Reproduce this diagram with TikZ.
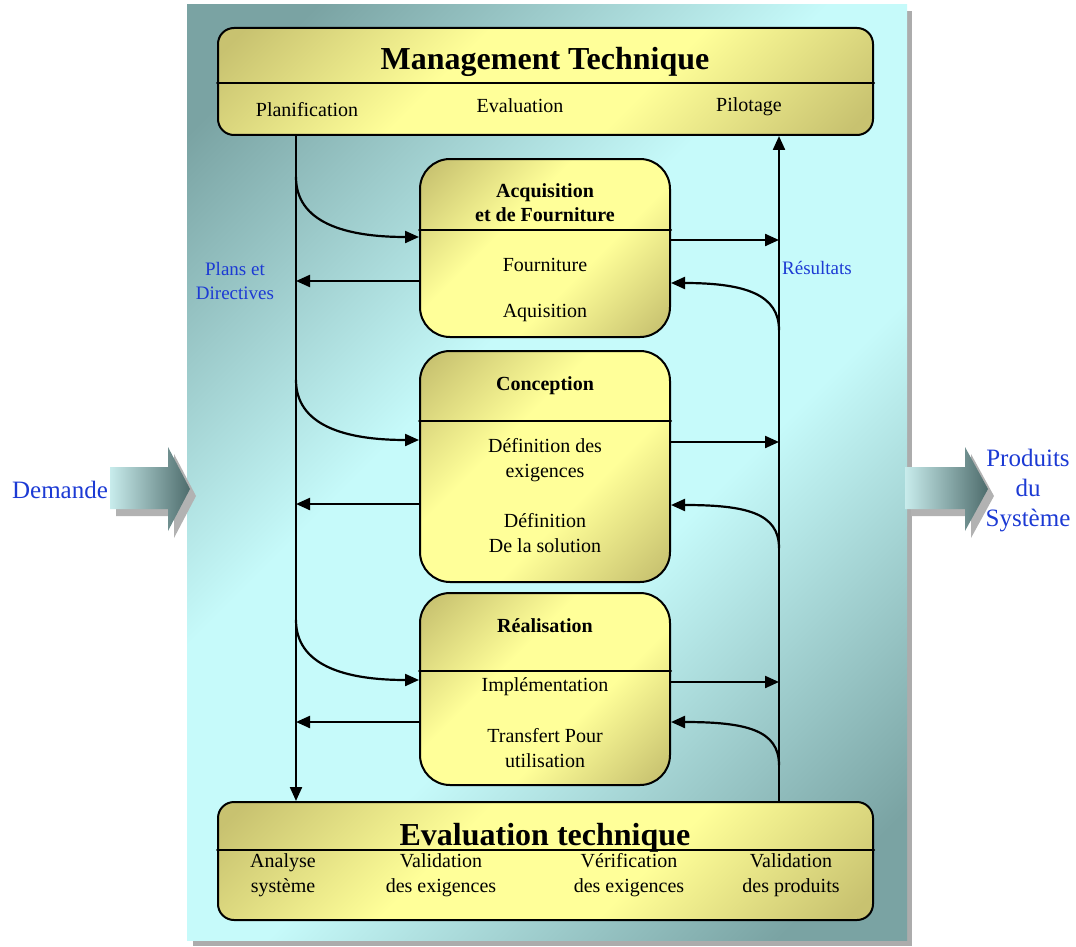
\documentclass[tikz,border=0pt]{standalone}
\usepackage{fontspec}
\setmainfont{Liberation Serif}
\usetikzlibrary{arrows.meta}

\definecolor{paneldark}{RGB}{122,163,163}
\definecolor{panellight}{RGB}{198,250,250}
\definecolor{boxlight}{RGB}{255,255,153}
\definecolor{boxdark}{RGB}{200,194,112}
\definecolor{txtblue}{RGB}{28,58,212}
\definecolor{fatlight}{RGB}{200,236,236}
\definecolor{fatdark}{RGB}{78,108,108}

\pgfdeclareverticalshading{paneldiag}{100bp}{color(0bp)=(paneldark); color(20bp)=(paneldark);
  color(42bp)=(panellight); color(58bp)=(panellight); color(80bp)=(paneldark); color(100bp)=(paneldark)}
\pgfdeclareverticalshading{boxdiag}{100bp}{color(0bp)=(boxdark); color(17bp)=(boxdark);
  color(40bp)=(boxlight); color(60bp)=(boxlight); color(83bp)=(boxdark); color(100bp)=(boxdark)}

\tikzset{
  box/.style={draw=black,line width=2pt,rounded corners=#1,shading=boxdiag,shading angle=45},
  box/.default=30pt,
  lbl/.style={inner sep=0pt,align=center,font=\fontsize{20}{25}\selectfont},
  ttl/.style={inner sep=0pt,align=center,font=\fontsize{20}{24}\selectfont\bfseries},
  side/.style={inner sep=0pt,align=center,text=txtblue},
  fat/.style={left color=fatlight,right color=fatdark},
}

\begin{document}
\begin{tikzpicture}[line cap=round,line join=round,>={Triangle[length=14pt,width=12pt]},x=1pt,y=-1pt]
    \useasboundingbox (0,0) rectangle (1076,947);
    % panel
    \fill[gray!65] (193,11) rectangle (912,946);
    \shade[shading=paneldiag,shading angle=45] (187,5) rectangle (907,940);
    % input / output
    \fill[gray!60] (116,474) -- (174,474) -- (174,454) -- (196,496) -- (174,538) -- (174,516) -- (116,516) -- cycle;
    \shade[fat] (110,467) -- (168,467) -- (168,447) -- (190,489) -- (168,531) -- (168,509) -- (110,509) -- cycle;
    \fill[gray!60] (911,474) -- (971,474) -- (971,454) -- (994,496) -- (971,538) -- (971,516) -- (911,516) -- cycle;
    \shade[fat] (905,467) -- (965,467) -- (965,447) -- (988,489) -- (965,531) -- (965,509) -- (905,509) -- cycle;
    \node[side,font=\fontsize{25}{30}\selectfont] (dem) at (60,490) {Demande};
    \node[side,font=\fontsize{25}{30}\selectfont] (prod) at (1028,491) {Produits\\du\\Syst\`eme};

    % boxes
    \node[box=16pt,minimum width=655pt,minimum height=107pt] (mgmt) at (545.5,81.5) {};
    \node[box=16pt,minimum width=655pt,minimum height=118pt] (eval) at (545.5,861) {};
    \node[box,minimum width=250pt,minimum height=178pt] (acq) at (545,248) {};
    \node[box,minimum width=250pt,minimum height=231pt] (conc) at (545,466.5) {};
    \node[box,minimum width=250pt,minimum height=192pt] (real) at (545,689) {};
    \foreach \n/\y in {mgmt/83,eval/850,acq/230,conc/421,real/671}
        \draw[line width=2pt] (\n.west |- 0,\y) -- (\n.east |- 0,\y);

    % texts
    \node[inner sep=0pt,font=\fontsize{32}{36}\selectfont\bfseries] (mgmtT) at (545,62) {Management Technique};
    \node[lbl] (plan) at (307,110) {Planification};
    \node[lbl] (evl) at (520,106) {Evaluation};
    \node[lbl] (pil) at (749,107) {Pilotage};
    \node[inner sep=0pt,font=\fontsize{32}{36}\selectfont\bfseries] (evalT) at (545,838) {Evaluation technique};
    \node[lbl] (ana) at (283,875) {Analyse\\syst\`eme};
    \node[lbl] (vex) at (441,875) {Validation\\des exigences};
    \node[lbl] (ver) at (629,875) {V\'erification\\des exigences};
    \node[lbl] (vpr) at (791,875) {Validation\\des produits};
    \node[ttl] (acqT) at (545,203) {Acquisition\\et de Fourniture};
    \node[lbl] (four) at (545,265) {Fourniture};
    \node[lbl] (aqu) at (545,313) {Aquisition};
    \node[ttl] (concT) at (545,386) {Conception};
    \node[lbl] (dexi) at (545,460) {D\'efinition des\\exigences};
    \node[lbl] (dsol) at (545,533) {D\'efinition\\De la solution};
    \node[ttl] (realT) at (545,626) {R\'ealisation};
    \node[lbl] (impl) at (545,687) {Impl\'ementation};
    \node[lbl] (trans) at (545,748) {Transfert Pour\\utilisation};
    \node[side,font=\fontsize{19}{24}\selectfont] (plans) at (235,281) {Plans et\\Directives};
    \node[side,font=\fontsize{19}{24}\selectfont] (res) at (817,268) {R\'esultats};

    % flows
    \coordinate (lx) at (296,0);
    \coordinate (rx) at (779,0);
    \begin{scope}[line width=2.2pt]
    \draw[->] (mgmt.south -| lx) -- (eval.north -| lx);
    \draw[->] (eval.north -| rx) -- (mgmt.south -| rx);
    \foreach \n/\ys/\yin/\yl/\yr/\yb/\ye in {acq/177/237/281/240/283/330,
        conc/380/440/504/442/505/548, real/620/680/722/682/722/765} {
        \draw[->] (lx |- 0,\ys) .. controls +(0,45) and +(-75,0) .. (\n.west |- 0,\yin);
        \draw[->] (\n.west |- 0,\yl) -- (lx |- 0,\yl);
        \draw[->] (\n.east |- 0,\yr) -- (rx |- 0,\yr);
        \draw[->] (rx |- 0,\ye) .. controls +(0,-35) and +(75,0) .. (\n.east |- 0,\yb);
    }
    \end{scope}
\end{tikzpicture}
\end{document}
